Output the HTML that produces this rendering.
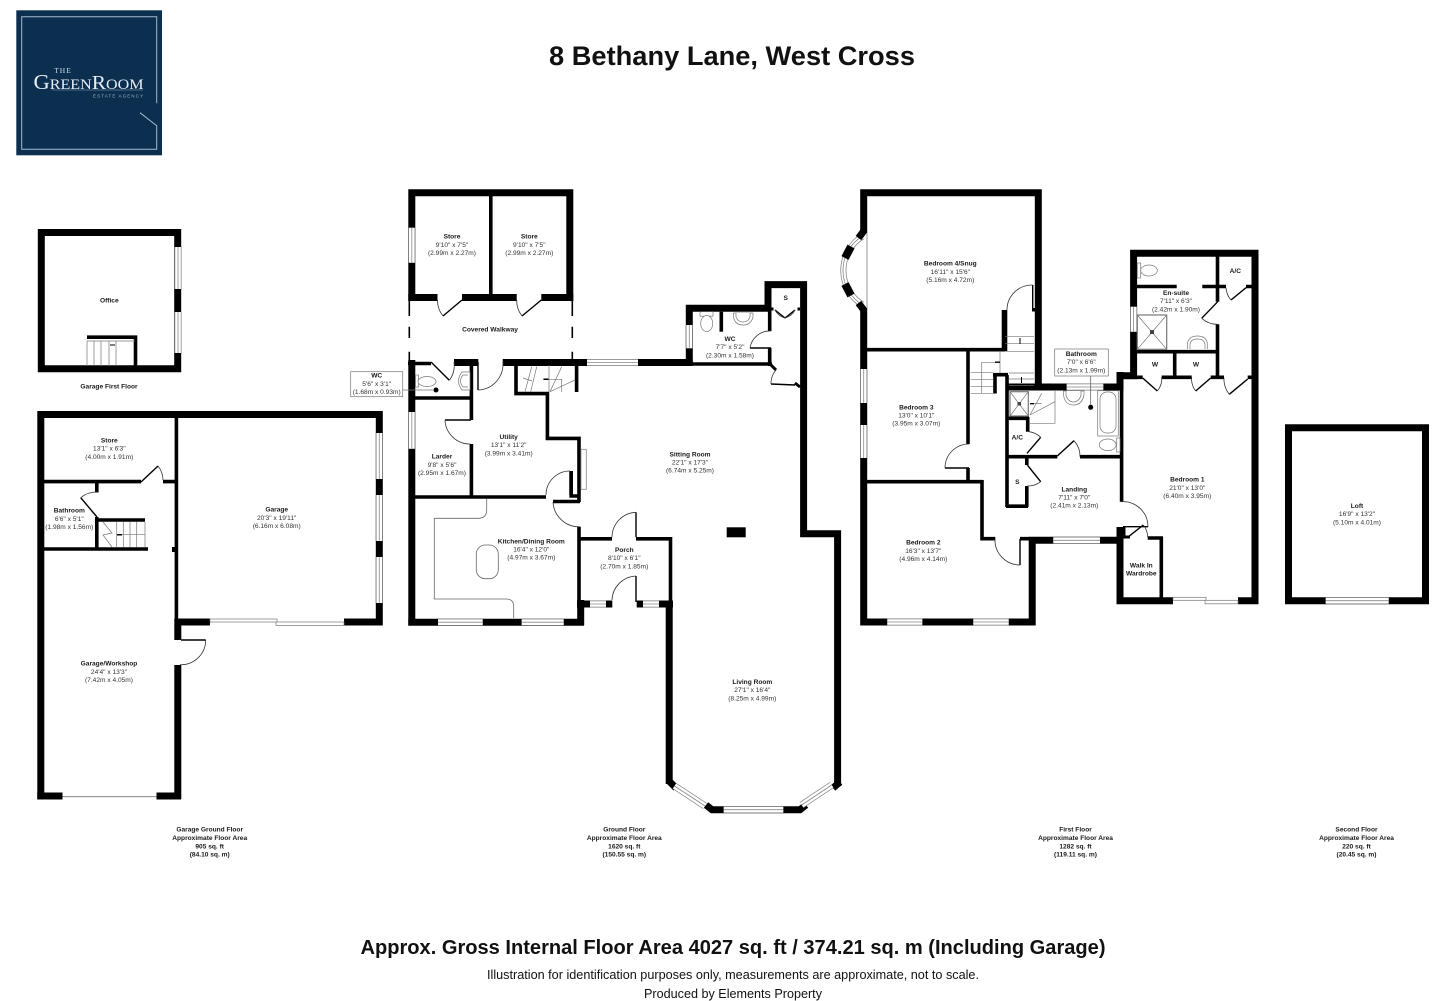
<!DOCTYPE html>
<html><head><meta charset="utf-8"><style>
html,body{margin:0;padding:0;background:#fff}
svg{display:block}
text{font-family:"Liberation Sans",Arial,sans-serif;text-anchor:middle;fill:#222}
.t{font-size:6.6px;font-weight:bold;fill:#1a1a1a}
.d{font-size:6.6px;fill:#333}
.w{fill:none;stroke:#000;stroke-linejoin:miter}
.l{fill:none;stroke:#000;stroke-width:1.4}
.a{fill:none;stroke:#333;stroke-width:.8}
.g{fill:none;stroke:#777;stroke-width:.7}
.f{fill:#fff;stroke:#777;stroke-width:.7}
</style></head><body>
<svg width="1433" height="1001" viewBox="0 0 1433 1001" xmlns="http://www.w3.org/2000/svg">
<rect width="1433" height="1001" fill="#fff"/>

<!-- logo -->
<rect x="16.3" y="10.3" width="145.7" height="145" fill="#0c2f50"/>
<path d="M156.7,103.3V16.7H21.7V149.3H156.7V125.7L140,112.7" fill="none" stroke="#a3b9cf" stroke-width="1"/>
<text x="63" y="73" style="font-family:'Liberation Serif',serif;font-size:7.5px;letter-spacing:1px;fill:#cfdbe6">THE</text>
<text x="88.5" y="89" textLength="110" lengthAdjust="spacingAndGlyphs" style="font-family:'Liberation Serif',serif;font-size:15px;fill:#e6edf3"><tspan font-size="21">G</tspan>REEN<tspan font-size="20">R</tspan>OOM</text>
<path d="M52,90H143" stroke="#8ea6bd" stroke-width=".5"/>
<text x="118" y="97.5" textLength="50" style="font-family:'Liberation Sans',sans-serif;font-size:4.4px;fill:#9db3c8">ESTATE AGENCY</text>

<!-- headings -->
<text x="732" y="65" textLength="366" lengthAdjust="spacingAndGlyphs" style="font-size:27px;font-weight:bold;fill:#111">8 Bethany Lane, West Cross</text>
<text x="733" y="954" textLength="745" lengthAdjust="spacingAndGlyphs" style="font-size:20px;font-weight:bold;fill:#111">Approx. Gross Internal Floor Area 4027 sq. ft / 374.21 sq. m (Including Garage)</text>
<text x="733" y="979" textLength="492" lengthAdjust="spacingAndGlyphs" style="font-size:12.5px;fill:#111">Illustration for identification purposes only, measurements are approximate, not to scale.</text>
<text x="733" y="998" textLength="178" lengthAdjust="spacingAndGlyphs" style="font-size:12.5px;fill:#111">Produced by Elements Property</text>

<!-- thick walls -->
<g class="w" stroke-width="7">
<!-- office -->
<path d="M41.3,232.5H177.7V368.7H41.3Z"/>
<!-- garage -->
<path d="M40.8,799V414.5H379.3V622H344"/>
<path d="M37.3,796H62.5M156.5,796H181"/>
<path d="M210,622H174.5"/>
<path d="M177.8,619V640M177.8,665V799"/>
<!-- ground floor -->
<path d="M411.8,301V192.8H569.8V301"/>
<path d="M408.3,297.5H437.5M462,297.5H516.7M541.3,297.5H573.3"/>
<path d="M411.8,360V625.3"/>
<path d="M408.3,622.2H584"/>
<path d="M580.7,600V625"/>
<path d="M454,362.5H478.3M502.7,362.5H692.7"/>
<path d="M577,604H612.3M636.7,604H673"/>
<path d="M689.3,366V308.2H771"/>
<path d="M768,310V284.6H803.6V533.8H837.6V786"/>
<path d="M669.2,601V784"/>
<path d="M669,781L676,788M706,805L712,809.7H800L806,805M833,788L840,782"/>
<!-- first floor -->
<path d="M863.7,232V192.8H1038.3V390"/>
<path d="M863.7,308V622H1032.2V540.3H1120"/>
<path d="M1120,527V600.7H1173M1238,600.7H1255V253.3H1133.6V375.7H1116.7"/>
<path d="M1120,372V390"/>
<path d="M1008,387H1123"/>
<!-- loft -->
<path d="M1288.5,427.8H1425.5V600.7H1288.5Z"/>
</g>

<!-- thin walls -->
<g class="w" stroke-width="3.6">
<path d="M490.8,194V296"/>
<path d="M408,363.5H431"/>
<path d="M415,398H472"/>
<path d="M471.4,364V420M471.4,444V497"/>
<path d="M415,497H546"/>
<path d="M516,364V393.6H547.4V438.4H579V502"/>
<path d="M553,501.5H580"/>
<path d="M576.6,365V392"/>
<path d="M571.2,471V496H578"/>
<path d="M579,526.7V601"/>
<path d="M580,538.8H612M636,538.8H672"/>
<path d="M670.5,537V601"/>
<path d="M721.3,311.7V331.7"/>
<path d="M769.7,310V331M769.7,348V366"/>
<path d="M692,364H772"/>
<!-- garage inner -->
<path d="M176.4,414V620"/>
<path d="M44,481.6H141M163,481.6H175"/>
<path d="M96.8,483V492.5M96.8,517V549"/>
<path d="M44,549H148"/>
<path d="M97,520H145"/>
<!-- office stair -->
<path d="M87,337.2H135.5V367"/>
<!-- first floor -->
<path d="M867,349.7H1005"/>
<path d="M968,351V444M968,468V482"/>
<path d="M867,481.7H983"/>
<path d="M982,480V538.7H995.3M1020,538.7H1030"/>
<path d="M1007,375V507M993,374.7H1008M995,373V393.5"/>
<path d="M1006,506.2H1028M1026.8,455V465M1026.8,486V507"/>
<path d="M1008,456.7H1057.3M1080,456.7H1123"/>
<path d="M1008,418.3H1029M1027.7,417V431.7"/>
<path d="M1121.6,390V501.7"/>
<path d="M1161.3,537V599M1147.7,538H1163"/>
<path d="M1137,286.5H1176.7M1202.3,286.5H1226M1246,286.5H1252"/>
<path d="M1217.5,256V301.7M1217.5,324.3V378"/>
<path d="M1137,351.7H1219"/>
<path d="M1174.7,353V378"/>
<path d="M1137,377.3H1142.7M1161.7,377.3H1191.7M1210.7,377.3H1224M1247.7,377.3H1252"/>
</g>
<path d="M1001.7,310H1007.3V351H1001.7Z" fill="#000"/>
<rect x="1032" y="308" width="3.5" height="3.5" fill="#000"/>
<rect x="726.7" y="527.3" width="19" height="10" fill="#000"/>
<rect x="172" y="547" width="4" height="5" fill="#000"/>
<rect x="771" y="307.5" width="2.5" height="3" fill="#000"/><rect x="797.5" y="307.5" width="2.5" height="3" fill="#000"/>

<!-- windows -->
<defs><path id="win" d="M178,247V289M178,312V353M379.3,433V479M379.3,495V541M379.3,557V603M411.8,227.7V262.7M411.8,412V448.7M587,362.5H638M438,622.2H482.7M521.7,622.2H563.7M590,604H606M643,604H659M689.3,325V348.3M723.7,809.7H783.3M674.5,786L705,806M801.7,805L831.7,785M863.7,369V403M863.7,425V458M887.3,622H922.3M973.3,622H1008.7M1053.3,540.3H1100M1066.7,387H1103.3M1133.6,306.7V331.7M1325.7,600.7H1388.7"/></defs>
<use href="#win" fill="none" stroke="#777" stroke-width="7"/>
<use href="#win" fill="none" stroke="#fff" stroke-width="5.6"/>
<use href="#win" fill="none" stroke="#888" stroke-width=".8"/>
<!-- sliding windows -->
<rect x="210" y="619" width="67" height="3" class="f"/><rect x="276" y="622" width="68" height="3.4" class="f"/>
<path d="M62.5,796.7H156.5" stroke="#777" stroke-width=".9"/>
<rect x="1173" y="597.3" width="33" height="3" class="f"/><rect x="1205" y="600.3" width="33" height="3.5" class="f"/>
<!-- bay window bedroom 4 -->
<path d="M867,232V308" stroke="#aaa" stroke-width="1.2"/>
<g class="g" stroke-width=".8"><path d="M861,234A43,43 0 0 0 861,307"/><path d="M862.4,236.2A40,40 0 0 0 862.4,304.8"/><path d="M863.9,238.8A37,37 0 0 0 863.9,302.2"/></g>
<path d="M851,246.5L845,258M845,284L851,295.5" stroke="#000" stroke-width="8" fill="none"/>
<path d="M864.5,230L858.5,238M858.5,303L864.5,311" stroke="#000" stroke-width="7" fill="none"/>

<!-- dashed walkway -->
<path d="M409.3,301V316M409.3,326.7V338M409.3,351.7V362M572.3,301V316M572.3,326.7V338M572.3,351.7V362" stroke="#000" stroke-width="1.6" fill="none"/>

<!-- doors -->
<g class="l">
<path d="M462,300L443,316M541.3,300L522,316M431,362L449.3,380.3M478,362V390M471,420H445M570,495V471M553,502H580M636,537V512.3M636,602V576M771,348H750M141,482L158,466M97,517L80.7,497.7M181,640H205.7"/>
<path d="M1032.7,310V285M969,468H945M1020,539V565M1123,526.7H1148M1127.7,537.3L1143.3,525M1057.3,456L1074,440.7M1027,453.3L1040.7,437.3M1027.3,465L1040.7,481.7M1217.7,301.7L1201.7,318.3M1142.7,378L1157.3,391M1210.7,378L1195.7,391M1247.7,379L1229.3,394.3M1246,287.7L1231,300"/>
<path d="M771,384L795,385M775,310L785,318M795,310L785,318"/>
</g>
<path d="M771,365L776,370M795,383L800,387M1124,527V537H1130" class="w" stroke-width="3"/>
<g class="a">
<path d="M443,316A25,25 0 0 1 437.5,300"/><path d="M522,316A25,25 0 0 1 516.7,300"/>
<path d="M449.3,380.3A25,25 0 0 0 454,362"/><path d="M478,390A26,26 0 0 0 503,362"/>
<path d="M445,420A25,25 0 0 0 470,444"/><path d="M570,471A24,24 0 0 0 546,495"/>
<path d="M553,502A26,26 0 0 0 580,526.7"/><path d="M636,512.3A25,25 0 0 0 612,537"/>
<path d="M636,576A25,25 0 0 0 612,600"/><path d="M750,348A20,20 0 0 1 771,331"/>
<path d="M776,370A20,20 0 0 0 771,384"/><path d="M785,318Q778,316 775,310M785,318Q792,316 795,310"/>
<path d="M158,466A23,23 0 0 1 163,480"/><path d="M80.7,497.7A25,25 0 0 1 97,492"/>
<path d="M205.7,640A24.7,24.7 0 0 1 180,664.7"/>
<path d="M1032.7,285A25,25 0 0 0 1007,310"/><path d="M945,468A24,24 0 0 1 969,444"/>
<path d="M1020,565A25,25 0 0 1 995,539"/><path d="M1148,526.7A25,25 0 0 0 1121,501.7"/>
<path d="M1143.3,525A20,20 0 0 1 1147.7,537"/><path d="M1074,440.7A23,23 0 0 1 1080,456.7"/>
<path d="M1040.7,437.3A21,21 0 0 0 1029.3,431.7"/><path d="M1040.7,481.7A21,21 0 0 1 1027.3,486"/>
<path d="M1201.7,318.3A23,23 0 0 0 1217.7,324.3"/><path d="M1157.3,391A19.5,19.5 0 0 0 1161.7,377"/>
<path d="M1195.7,391A19.5,19.5 0 0 1 1191.7,377"/><path d="M1229.3,394.3A24,24 0 0 1 1224,378"/>
<path d="M1231,300A20,20 0 0 1 1226,287.7"/>
</g>

<!-- stairs -->
<g class="g">
<path d="M87,341H135M87,341V366M94,341V366M101,341V366M109,341V366M116,341V366"/>
<path d="M116.7,522V547M123.3,522V547M130,522V547M136.7,522V547M145,522V547M116.7,534.7H145M103,522L112,533L103,535L112,547"/>
<path d="M525,391.7L531.7,366.7M530.7,391.7L536.7,366.7M549,365V392M550,391.7L561.7,366.7M550,391.7L575,380M543.3,379.3H561.7V392M523,378L532,381"/>
<path d="M1005,336.7H1034M1005,343.3H1034M1005,351.7H1034M1009,373H1034M1009,379H1034M1009,385.7H1034"/>
<path d="M970.7,372.7H993M970.7,379.3H993M970.7,386.7H993M970.7,393.3H993M981.7,362.3V393.3M981.7,362.3H1000M1000,351V373"/>
<path d="M1055,390V423.3H1030M1030,415L1055,401.7M1030,415L1041.7,393.3M1030,403.5H1041.7"/>
</g>
<path d="M110,344.5h5v1h-5zM117,534h5v1.5h-5zM543.5,378.5h5v1.5h-5zM1019.5,338v6h1v-6zM1021,377v6h1v-6zM995,361.5h5v1.4h-5zM1030,403h4v1.4h-4z" fill="#000"/>

<!-- kitchen -->
<path d="M486.7,499V510Q486.7,518.3 478,518.3H434.3V599H506Q513.7,599 513.7,606.7V618" fill="none" stroke="#666" stroke-width=".8"/>
<rect x="476.3" y="545" width="22" height="33.7" rx="9" fill="none" stroke="#666" stroke-width=".8"/>
<rect x="581" y="449.3" width="5.3" height="40" fill="none" stroke="#888" stroke-width=".8"/>

<!-- fixtures -->
<g class="f">
<rect x="415.5" y="375" width="3" height="12"/><ellipse cx="427" cy="381.5" rx="9" ry="5"/>
<path d="M470,372H462Q455,381 462,390H470Z"/><path d="M468,375H463Q458,381 463,387H468"/>
<rect x="700" y="311.7" width="13" height="4.5"/><ellipse cx="706.7" cy="323.5" rx="6" ry="8"/>
<path d="M733.5,313H753V317Q751,325 743,325Q735,325 733.5,317Z"/><path d="M736,313V317Q738,322 743,322Q748,322 750,317V313"/>
<path d="M1063.5,391H1084V395Q1082,405 1073.5,405Q1065,405 1063.5,395Z"/><path d="M1066,391V395Q1068,402 1073.5,402Q1079,402 1081,395V391"/>
<rect x="1097.7" y="390.7" width="20.6" height="45.3"/><rect x="1100" y="392" width="16" height="41" rx="7"/>
<ellipse cx="1107.7" cy="444.8" rx="8.4" ry="5.8"/><rect x="1116.7" y="438" width="3.3" height="14"/>
<rect x="1010" y="391.7" width="18.3" height="24.3" stroke-width="1.2"/><path d="M1010,391.7L1028.3,416M1028.3,391.7L1010,416"/>
<rect x="1137.3" y="263" width="3.4" height="15"/><ellipse cx="1149" cy="270.5" rx="8.3" ry="5.5"/>
<rect x="1137.3" y="315" width="29.4" height="34.3" stroke-width="1.2"/><path d="M1137.3,315L1166.7,349.3M1166.7,315L1137.3,349.3"/>
<path d="M1187.5,349V343Q1189,336 1197.5,336Q1206,336 1207.3,343V349"/><path d="M1190,349V344Q1191,339 1197.5,339Q1204,339 1205,344V349"/>
</g>
<circle cx="436" cy="390" r="2.5" fill="#000"/><circle cx="1090.7" cy="407.3" r="2.5" fill="#000"/>
<rect x="1017.5" y="402" width="3.5" height="3.5" fill="#444"/><rect x="1150" y="330" width="4" height="4" fill="#444"/>

<!-- label boxes -->
<rect x="350.7" y="371.7" width="52" height="25" fill="#fff" stroke="#777" stroke-width=".7"/>
<path d="M402.7,390H433" stroke="#777" stroke-width=".7"/>
<rect x="1054.7" y="349" width="53.6" height="27" fill="#fff" stroke="#777" stroke-width=".7"/>
<path d="M1090.7,376V405" stroke="#555" stroke-width=".7"/>

<!-- labels -->
<text class="t" x="109.3" y="302.6">Office</text>
<text class="t" x="109" y="388.3">Garage First Floor</text>

<text class="t" x="376.7" y="377.5">WC</text><text class="d" x="376.7" y="385.8">5'6" x 3'1"</text><text class="d" x="376.7" y="394.2">(1.68m x 0.93m)</text>
<text class="t" x="109.3" y="442.3">Store</text><text class="d" x="109.3" y="450.5">13'1" x 6'3"</text><text class="d" x="109.3" y="458.8">(4.00m x 1.91m)</text>
<text class="t" x="69.3" y="512.6">Bathroom</text><text class="d" x="69.3" y="520.8">6'6" x 5'1"</text><text class="d" x="69.3" y="529">(1.98m x 1.56m)</text>
<text class="t" x="276.7" y="511.6">Garage</text><text class="d" x="276.7" y="519.8">20'3" x 19'11"</text><text class="d" x="276.7" y="528">(6.16m x 6.08m)</text>
<text class="t" x="109" y="665.6">Garage/Workshop</text><text class="d" x="109" y="673.8">24'4" x 13'3"</text><text class="d" x="109" y="682">(7.42m x 4.05m)</text>

<text class="t" x="452" y="238.6">Store</text><text class="d" x="452" y="246.8">9'10" x 7'5"</text><text class="d" x="452" y="255">(2.99m x 2.27m)</text>
<text class="t" x="529.3" y="238.6">Store</text><text class="d" x="529.3" y="246.8">9'10" x 7'5"</text><text class="d" x="529.3" y="255">(2.99m x 2.27m)</text>
<text class="t" x="490" y="331.6">Covered Walkway</text>
<text class="t" x="730" y="341">WC</text><text class="d" x="730" y="349.2">7'7" x 5'2"</text><text class="d" x="730" y="357.4">(2.30m x 1.58m)</text>
<text class="t" x="785.7" y="300">S</text>
<text class="t" x="508.7" y="439">Utility</text><text class="d" x="508.7" y="447.2">13'1" x 11'2"</text><text class="d" x="508.7" y="455.4">(3.99m x 3.41m)</text>
<text class="t" x="442" y="458.6">Larder</text><text class="d" x="442" y="466.8">9'8" x 5'6"</text><text class="d" x="442" y="475">(2.95m x 1.67m)</text>
<text class="t" x="690" y="456.3">Sitting Room</text><text class="d" x="690" y="464.5">22'1" x 17'3"</text><text class="d" x="690" y="472.7">(6.74m x 5.25m)</text>
<text class="t" x="531.3" y="543.3">Kitchen/Dining Room</text><text class="d" x="531.3" y="551.5">16'4" x 12'0"</text><text class="d" x="531.3" y="559.7">(4.97m x 3.67m)</text>
<text class="t" x="624.3" y="552">Porch</text><text class="d" x="624.3" y="560.2">8'10" x 6'1"</text><text class="d" x="624.3" y="568.4">(2.70m x 1.85m)</text>
<text class="t" x="752.3" y="684">Living Room</text><text class="d" x="752.3" y="692.2">27'1" x 16'4"</text><text class="d" x="752.3" y="700.4">(8.25m x 4.99m)</text>

<text class="t" x="950.3" y="265.6">Bedroom 4/Snug</text><text class="d" x="950.3" y="273.8">16'11" x 15'6"</text><text class="d" x="950.3" y="282">(5.16m x 4.72m)</text>
<text class="t" x="1081.3" y="356">Bathroom</text><text class="d" x="1081.3" y="364.2">7'0" x 6'6"</text><text class="d" x="1081.3" y="372.4">(2.13m x 1.99m)</text>
<text class="t" x="916.3" y="409.3">Bedroom 3</text><text class="d" x="916.3" y="417.5">13'0" x 10'1"</text><text class="d" x="916.3" y="425.7">(3.95m x 3.07m)</text>
<text class="t" x="1176" y="295">En-suite</text><text class="d" x="1176" y="303.2">7'11" x 6'3"</text><text class="d" x="1176" y="311.4">(2.42m x 1.90m)</text>
<text class="t" x="1235.3" y="273">A/C</text>
<text class="t" x="1155" y="366.6">W</text><text class="t" x="1196" y="366.6">W</text>
<text class="t" x="1017.3" y="439.6">A/C</text><text class="t" x="1017.3" y="484">S</text>
<text class="t" x="1074.3" y="491.3">Landing</text><text class="d" x="1074.3" y="499.5">7'11" x 7'0"</text><text class="d" x="1074.3" y="507.7">(2.41m x 2.13m)</text>
<text class="t" x="1187.3" y="481.6">Bedroom 1</text><text class="d" x="1187.3" y="489.8">21'0" x 13'0"</text><text class="d" x="1187.3" y="498">(6.40m x 3.95m)</text>
<text class="t" x="923.3" y="544.6">Bedroom 2</text><text class="d" x="923.3" y="552.8">16'3" x 13'7"</text><text class="d" x="923.3" y="561">(4.96m x 4.14m)</text>
<text class="t" x="1141.3" y="567.3">Walk In</text><text class="t" x="1141.3" y="575.6">Wardrobe</text>
<text class="t" x="1357" y="508">Loft</text><text class="d" x="1357" y="516.2">16'9" x 13'2"</text><text class="d" x="1357" y="524.4">(5.10m x 4.01m)</text>

<text class="t" x="209.7" y="831.6">Garage Ground Floor</text><text class="t" x="209.7" y="840">Approximate Floor Area</text><text class="t" x="209.7" y="848.3">905 sq. ft</text><text class="t" x="209.7" y="856.6">(84.10 sq. m)</text>
<text class="t" x="624.3" y="831.6">Ground Floor</text><text class="t" x="624.3" y="840">Approximate Floor Area</text><text class="t" x="624.3" y="848.3">1620 sq. ft</text><text class="t" x="624.3" y="856.6">(150.55 sq. m)</text>
<text class="t" x="1075.5" y="831.6">First Floor</text><text class="t" x="1075.5" y="840">Approximate Floor Area</text><text class="t" x="1075.5" y="848.3">1282 sq. ft</text><text class="t" x="1075.5" y="856.6">(119.11 sq. m)</text>
<text class="t" x="1356.5" y="831.6">Second Floor</text><text class="t" x="1356.5" y="840">Approximate Floor Area</text><text class="t" x="1356.5" y="848.3">220 sq. ft</text><text class="t" x="1356.5" y="856.6">(20.45 sq. m)</text>
</svg>
</body></html>
